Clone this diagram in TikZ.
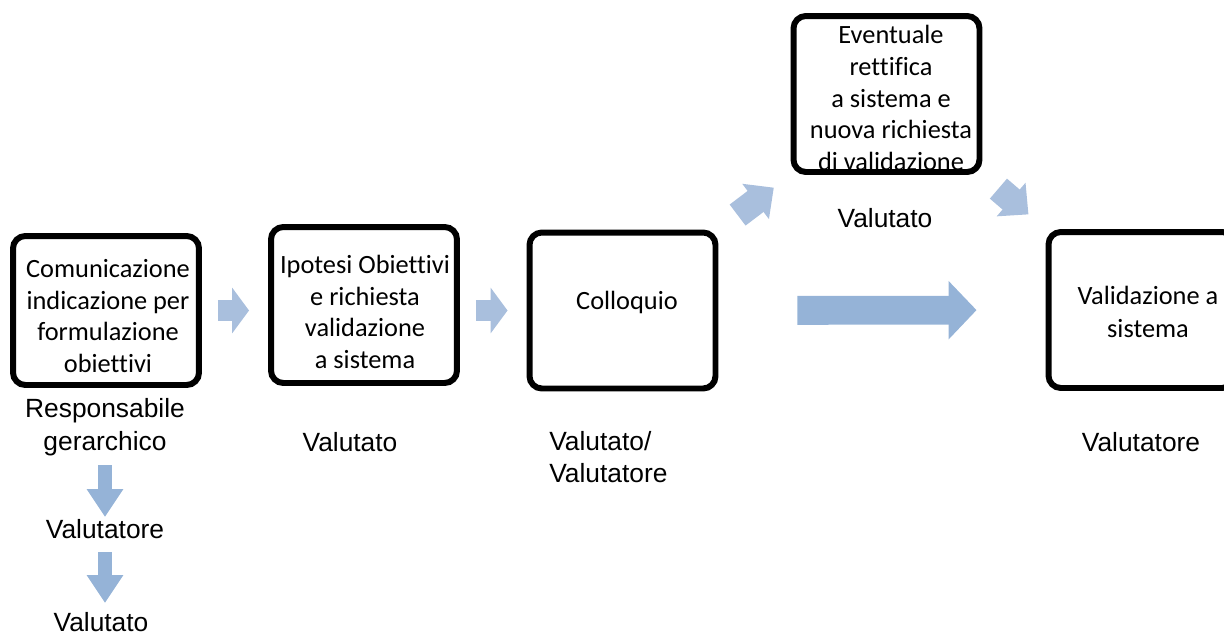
\documentclass[tikz,border=0pt]{standalone}
\usepackage{fontspec}
\setmainfont{Liberation Sans}
\newfontfamily\boxfont[Ligatures=NoCommon]{Carlito}
\usetikzlibrary{arrows.meta,positioning}
\definecolor{flow}{HTML}{95B3D7}
\definecolor{flowlight}{HTML}{A9BFDD}
\tikzset{
  stepbox/.style={draw,line width=3.4pt,rounded corners=7pt,minimum width=3.72cm,minimum height=3.12cm},
  boxtxt/.style={font=\boxfont\fontsize{15}{18}\selectfont,align=center,inner sep=0pt},
  role/.style={font=\fontsize{15}{18.7}\selectfont,align=center,inner sep=0pt},
  sidearr/.style={flowlight,line width=12.5pt,-{Triangle[length=9.6pt,width=25.5pt]}},
  bigarr/.style={flow,line width=16.4pt,-{Triangle[length=15.9pt,width=32.3pt]}},
  diagarr/.style={flowlight,line width=15pt,-{Triangle[length=13pt,width=24.4pt]}},
  downarr/.style={flow,line width=8.5pt,-{Triangle[length=15.9pt,width=19.8pt]}}
}

\begin{document}
\begin{tikzpicture}[x=0.02cm,y=-0.02cm]
\useasboundingbox (0,0) rectangle (1224,637);
% texts of the steps
\node[boxtxt] (t1) at (108,316) {Comunicazione\\indicazione per\\formulazione\\obiettivi};
\node[boxtxt] (t2) at (365,312) {Ipotesi Obiettivi\\e richiesta\\validazione\\a sistema};
\node[boxtxt] (t3) at (627,302) {Colloquio};
\node[boxtxt] (t4) at (891,98) {Eventuale\\rettifica\\a sistema e\\nuova richiesta\\di validazione};
\node[boxtxt,font=\boxfont\fontsize{15}{18.5}\selectfont] (t5) at (1148,312) {Validazione a\\sistema};
% step boxes
\node[stepbox,minimum height=2.98cm] (b1) at (106,310.5) {};
\node[stepbox] (b2) at (364,305) {};
\node[stepbox] (b3) at (622.5,310.5) {};
\node[stepbox] (b4) at (886.5,94) {};
\node[stepbox] (b5) at (1141.5,310) {};
% who does it
\node[role] (resp) at (105,427) {Responsabile\\gerarchico};
\node[role] (vtore) at (105,529) {Valutatore};
\node[role] (vto) at (101,622) {Valutato};
\node[role] (v2) at (350,442) {Valutato};
\node[role,align=left,anchor=west] (v3) at (549,457) {Valutato/\\Valutatore};
\node[role] (v4) at (885,218) {Valutato};
\node[role] (v5) at (1141,442) {Valutatore};
% flow
\draw[sidearr,shorten <=0.32cm,shorten >=0.38cm] (b1.east) -- (b1.east -| b2.west);
\draw[sidearr,shorten <=0.32cm,shorten >=0.38cm] (b2.east |- b3.west) -- (b3.west);
\draw[bigarr,shorten <=1.58cm,shorten >=1.38cm] (b3.east) -- (b5.west);
\draw[diagarr,shorten <=0.48cm,shorten >=0.42cm] (b3.north east) -- (b4.south west);
\draw[diagarr,shorten <=0.42cm,shorten >=0.45cm] (b4.south east) -- (b5.north west);
\draw[downarr,shorten <=0.76cm,shorten >=0.24cm] (resp.center) -- (resp.center |- vtore.center);
\draw[downarr,shorten <=0.46cm,shorten >=0.38cm] (vtore.center) -- (vtore.center |- vto.center);
\end{tikzpicture}
\end{document}
